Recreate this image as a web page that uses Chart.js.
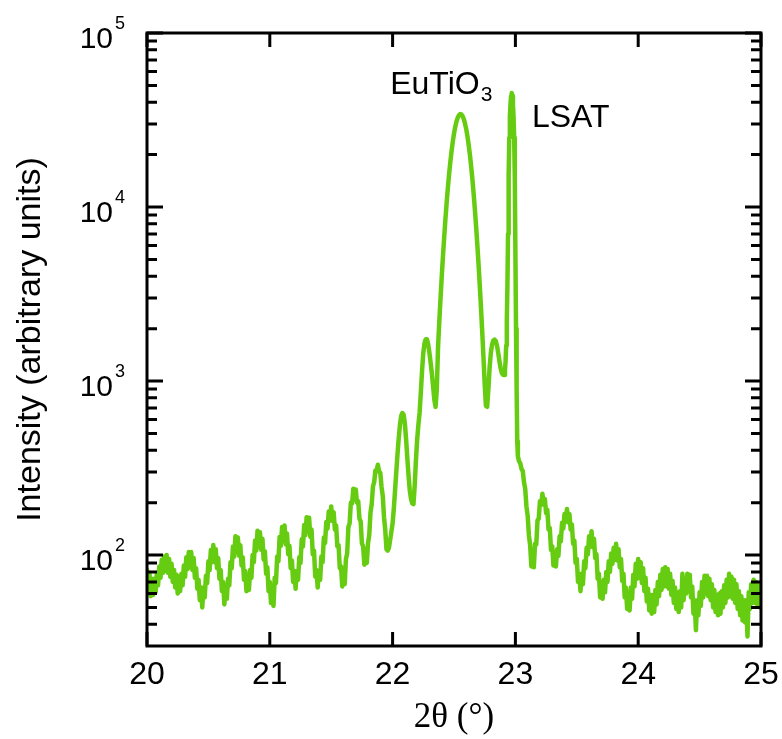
<!DOCTYPE html>
<html><head><meta charset="utf-8">
<script src="https://cdn.jsdelivr.net/npm/chart.js@4.4.1/dist/chart.umd.min.js"></script>
<style>html,body{margin:0;padding:0;background:#fff}canvas{display:block}</style>
</head><body>
<canvas id="c" width="782" height="739"></canvas>
<script>
// 2θ (degrees) of each sample of the scan
const twoTheta = [
20.00,20.01,20.02,20.03,20.04,20.05,20.06,20.07,20.08,20.09,20.10,20.11,20.12,20.13,20.14,20.15,20.16,20.17,20.18,20.19,
20.20,20.21,20.22,20.23,20.24,20.25,20.26,20.27,20.28,20.29,20.30,20.31,20.32,20.33,20.34,20.35,20.36,20.37,20.38,20.39,
20.40,20.41,20.42,20.43,20.44,20.45,20.46,20.47,20.48,20.49,20.50,20.51,20.52,20.53,20.54,20.55,20.56,20.57,20.58,20.59,
20.60,20.61,20.62,20.63,20.64,20.65,20.66,20.67,20.68,20.69,20.70,20.71,20.72,20.73,20.74,20.75,20.76,20.77,20.78,20.79,
20.80,20.81,20.82,20.83,20.84,20.85,20.86,20.87,20.88,20.89,20.90,20.91,20.92,20.93,20.94,20.95,20.96,20.97,20.98,20.99,
21.00,21.01,21.02,21.03,21.04,21.05,21.06,21.07,21.08,21.09,21.10,21.11,21.12,21.13,21.14,21.15,21.16,21.17,21.18,21.19,
21.20,21.21,21.22,21.23,21.24,21.25,21.26,21.27,21.28,21.29,21.30,21.31,21.32,21.33,21.34,21.35,21.36,21.37,21.38,21.39,
21.40,21.41,21.42,21.43,21.44,21.45,21.46,21.47,21.48,21.49,21.50,21.51,21.52,21.53,21.54,21.55,21.56,21.57,21.58,21.59,
21.60,21.61,21.62,21.63,21.64,21.65,21.66,21.67,21.68,21.69,21.70,21.71,21.72,21.73,21.74,21.75,21.76,21.77,21.78,21.79,
21.80,21.81,21.82,21.83,21.84,21.85,21.86,21.87,21.88,21.89,21.90,21.91,21.92,21.93,21.94,21.95,21.96,21.97,21.98,21.99,
22.00,22.01,22.02,22.03,22.04,22.05,22.06,22.07,22.08,22.09,22.10,22.11,22.12,22.13,22.14,22.15,22.16,22.17,22.18,22.19,
22.20,22.21,22.22,22.23,22.24,22.25,22.26,22.27,22.28,22.29,22.30,22.31,22.32,22.33,22.34,22.35,22.36,22.37,22.38,22.39,
22.40,22.41,22.42,22.43,22.44,22.45,22.46,22.47,22.48,22.49,22.50,22.51,22.52,22.53,22.54,22.55,22.56,22.57,22.58,22.59,
22.60,22.61,22.62,22.63,22.64,22.65,22.66,22.67,22.68,22.69,22.70,22.71,22.72,22.73,22.74,22.75,22.76,22.77,22.78,22.79,
22.80,22.81,22.82,22.83,22.84,22.85,22.86,22.87,22.88,22.89,22.90,22.91,
22.915,22.92,22.925,22.93,22.935,22.94,22.945,22.95,22.955,22.96,22.965,22.97,22.975,22.98,22.985,22.99,22.995,23.00,23.005,23.01,23.015,
23.02,23.03,23.04,23.05,23.06,23.07,23.08,23.09,23.10,23.11,23.12,23.13,23.14,23.15,23.16,23.17,23.18,23.19,
23.20,23.21,23.22,23.23,23.24,23.25,23.26,23.27,23.28,23.29,23.30,23.31,23.32,23.33,23.34,23.35,23.36,23.37,23.38,23.39,
23.40,23.41,23.42,23.43,23.44,23.45,23.46,23.47,23.48,23.49,23.50,23.51,23.52,23.53,23.54,23.55,23.56,23.57,23.58,23.59,
23.60,23.61,23.62,23.63,23.64,23.65,23.66,23.67,23.68,23.69,23.70,23.71,23.72,23.73,23.74,23.75,23.76,23.77,23.78,23.79,
23.80,23.81,23.82,23.83,23.84,23.85,23.86,23.87,23.88,23.89,23.90,23.91,23.92,23.93,23.94,23.95,23.96,23.97,23.98,23.99,
24.00,24.01,24.02,24.03,24.04,24.05,24.06,24.07,24.08,24.09,24.10,24.11,24.12,24.13,24.14,24.15,24.16,24.17,24.18,24.19,
24.20,24.21,24.22,24.23,24.24,24.25,24.26,24.27,24.28,24.29,24.30,24.31,24.32,24.33,24.34,24.35,24.36,24.37,24.38,24.39,
24.40,24.41,24.42,24.43,24.44,24.45,24.46,24.47,24.48,24.49,24.50,24.51,24.52,24.53,24.54,24.55,24.56,24.57,24.58,24.59,
24.60,24.61,24.62,24.63,24.64,24.65,24.66,24.67,24.68,24.69,24.70,24.71,24.72,24.73,24.74,24.75,24.76,24.77,24.78,24.79,
24.80,24.81,24.82,24.83,24.84,24.85,24.86,24.87,24.88,24.89,24.90,24.91,24.92,24.93,24.94,24.95,24.96,24.97,24.98,24.99,
25.00
];
// Intensity (arbitrary units), one per 2θ sample
const intensity = [
82,67,79,58,73,59,73,61,78,67,86,74,94,79,98,81,100,79,95,75,
89,70,82,65,77,60,75,62,78,67,87,75,97,83,104,85,104,82,96,74,
84,64,72,55,65,50,65,57,76,69,92,82,107,91,114,91,108,84,96,73,
82,62,70,52,66,56,73,67,91,84,112,98,128,104,126,99,114,87,97,72,
81,62,75,63,82,74,100,91,121,106,138,112,135,107,124,94,105,78,85,62,
70,53,62,51,74,69,98,92,127,113,145,121,148,115,133,101,113,84,93,70,
81,64,81,72,97,90,123,112,149,130,165,138,164,127,140,101,106,75,82,65,
81,72,98,91,126,117,155,142,178,158,190,157,176,140,148,112,114,84,86,66,
74,68,95,102,145,152,200,198,240,218,238,200,204,162,156,117,112,88,94,90,
117,131,176,196,248,262,306,304,330,302,296,246,218,165,140,108,106,110,122,136,
152,185,235,300,380,470,560,630,655,640,570,460,360,285,235,210,198,196,250,350,
460,560,660,860,1150,1450,1650,1740,1740,1620,1450,1270,1100,930,780,710,900,1560,2170,2960,
3960,5200,6700,8490,10540,12880,15420,18110,20940,23710,26420,28840,30900,32580,33650,34190,34040,33270,31990,30130,
27930,25350,22590,19820,17020,14390,11910,9680,7740,6070,4680,3530,2620,1910,1365,960,720,710,900,1200,
1450,1620,1710,1730,1700,1600,1450,1300,1180,1110,1085,1082,
1150,1300,1600,2200,3500,7000,15000,25000,33000,39000,43500,45200,43500,39000,33000,25000,15000,5500,2000,900,450,
370,345,336,312,304,262,240,190,168,130,114,86,95,85,116,115,158,162,
204,194,225,196,210,174,182,140,143,107,112,87,99,86,108,99,128,120,153,142,
172,156,184,154,172,140,150,116,121,90,95,70,78,62,78,68,92,84,110,101,
128,112,137,111,124,96,101,73,78,57,68,56,72,61,80,70,92,80,102,89,
110,94,116,93,108,85,95,71,78,57,65,49,60,48,65,56,77,66,89,73,
95,74,91,69,84,62,74,54,64,48,59,46,59,47,63,52,70,58,77,63,
83,66,85,66,83,64,78,59,71,53,65,49,61,47,62,50,78,55,73,60,
78,62,77,57,66,46,55,37,55,45,61,51,70,57,76,60,76,58,73,55,
68,50,63,47,59,45,60,46,62,50,67,53,72,57,78,58,75,56,72,53,
68,49,62,45,58,42,55,41,55,34,61,49,68,53,72,53,70,52,67,50,
60
];
const xTickValues = [20, 21, 22, 23, 24, 25];
const yDecades = [100, 1000, 10000, 100000];
const yMinorTicks = [40,50,60,70,80,90,200,300,400,500,600,700,800,900,
  2000,3000,4000,5000,6000,7000,8000,9000,20000,30000,40000,50000,60000,70000,80000,90000];
const peakNames = ['EuTiO', 'LSAT'];

const SANS = '"Liberation Sans", Arial, sans-serif';
const SERIF = '"Liberation Serif", "Times New Roman", serif';

const framePlugin = {
  id: 'frame',
  afterDraw(chart) {
    const {ctx, chartArea: a, scales: {x, y}} = chart;
    ctx.save();
    ctx.strokeStyle = '#000';
    ctx.lineWidth = 3;
    ctx.lineCap = 'butt';
    ctx.strokeRect(a.left, a.top, a.right - a.left, a.bottom - a.top);
    ctx.beginPath();
    xTickValues.forEach(v => {
      const p = x.getPixelForValue(v);
      ctx.moveTo(p, a.bottom); ctx.lineTo(p, a.bottom - 14);
      ctx.moveTo(p, a.top); ctx.lineTo(p, a.top + 14);
    });
    yDecades.forEach(v => {
      const p = y.getPixelForValue(v);
      ctx.moveTo(a.left, p); ctx.lineTo(a.left + 16, p);
      ctx.moveTo(a.right, p); ctx.lineTo(a.right - 16, p);
    });
    yMinorTicks.forEach(v => {
      const p = y.getPixelForValue(v);
      ctx.moveTo(a.left, p); ctx.lineTo(a.left + 10, p);
      ctx.moveTo(a.right, p); ctx.lineTo(a.right - 10, p);
    });
    ctx.stroke();

    // exponents of the y tick labels
    ctx.fillStyle = '#000';
    ctx.font = '18px ' + SANS;
    ctx.textAlign = 'left';
    ctx.textBaseline = 'middle';
    yDecades.forEach(v => {
      const p = y.getPixelForValue(v);
      ctx.fillText(String(Math.round(Math.log10(v))), a.left - 32, p - 9);
    });

    // peak labels
    ctx.textBaseline = 'alphabetic';
    ctx.font = '32px ' + SANS;
    const ex = x.getPixelForValue(21.98), ey = y.getPixelForValue(44700);
    ctx.fillText(peakNames[0], ex, ey);
    const w = ctx.measureText(peakNames[0]).width;
    ctx.font = '21px ' + SANS;
    ctx.fillText('3', ex + w + 1, ey + 7);
    ctx.font = '32px ' + SANS;
    ctx.fillText(peakNames[1], x.getPixelForValue(23.135), y.getPixelForValue(28800));
    ctx.restore();
  }
};

const noLabelPadding = s => { s.paddingTop = 0; s.paddingBottom = 0; s.paddingLeft = 0; s.paddingRight = 0; };

new Chart(document.getElementById('c'), {
  type: 'line',
  data: {
    datasets: [{
      data: twoTheta.map((t, i) => ({x: t, y: intensity[i]})),
      borderColor: '#66cc11',
      borderWidth: 4.5,
      pointRadius: 0,
      fill: false,
      tension: 0,
      borderJoinStyle: 'round',
      borderCapStyle: 'round'
    }]
  },
  options: {
    responsive: false,
    animation: false,
    events: [],
    layout: {padding: {left: 0, right: 21, top: 33, bottom: 0}},
    plugins: {legend: {display: false}, tooltip: {enabled: false}},
    scales: {
      x: {
        type: 'linear', min: 20, max: 25,
        grid: {display: false, drawTicks: false}, border: {display: false},
        afterBuildTicks: s => { s.ticks = xTickValues.map(v => ({value: v})); },
        afterFit: s => { s.height = 93; noLabelPadding(s); },
        ticks: {font: {family: SANS, size: 32}, color: '#000', padding: 10, maxRotation: 0, autoSkip: false},
        title: {display: true, text: '2θ (°)', font: {family: SERIF, size: 35}, color: '#000', padding: {top: 0, bottom: 0}}
      },
      y: {
        type: 'logarithmic', min: 30, max: 100000,
        grid: {display: false, drawTicks: false}, border: {display: false},
        afterBuildTicks: s => { s.ticks = yDecades.map(v => ({value: v})); },
        afterFit: s => { s.width = 147; noLabelPadding(s); },
        ticks: {font: {family: SANS, size: 30}, color: '#000', padding: 34, labelOffset: 7, autoSkip: false,
          callback: () => '10'},
        title: {display: true, text: 'Intensity (arbitrary units)', font: {family: SANS, size: 34}, color: '#000', padding: {top: 10, bottom: 0}}
      }
    }
  },
  plugins: [framePlugin]
});
</script>
</body></html>
